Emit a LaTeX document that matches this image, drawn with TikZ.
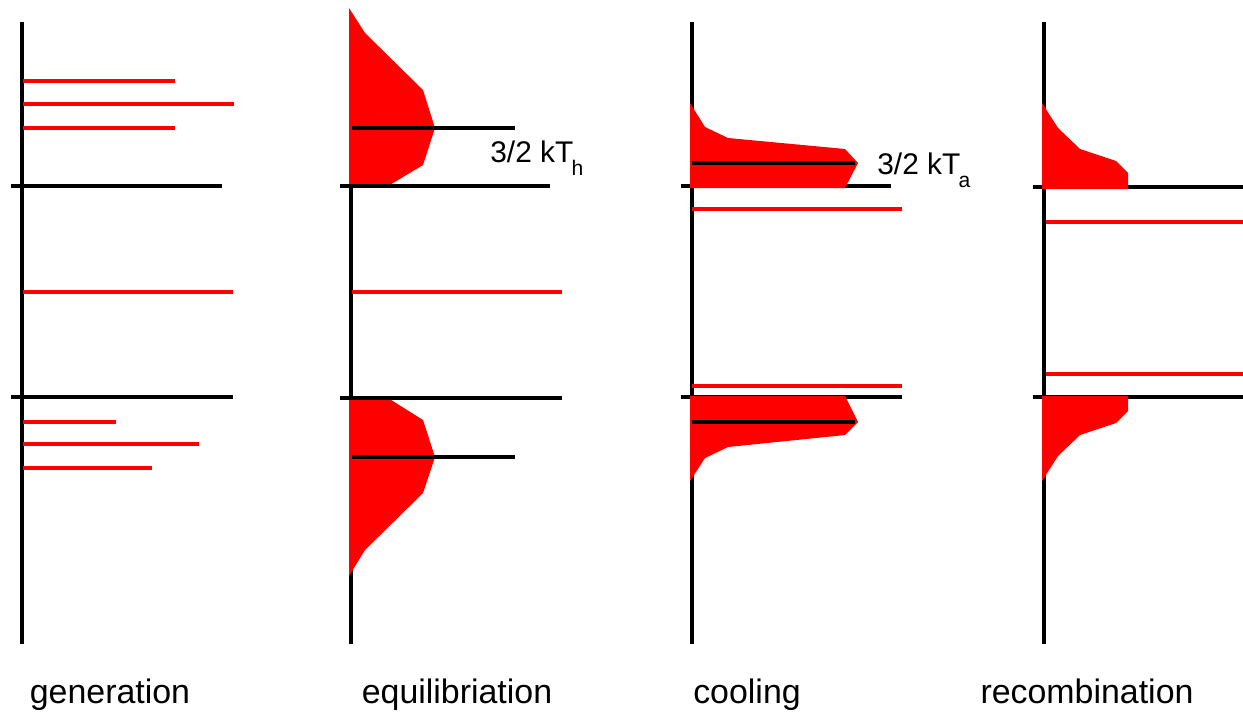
\documentclass[tikz,border=0pt]{standalone}
\usepackage{fontspec}
\setmainfont{Liberation Sans}
\begin{document}
\begin{tikzpicture}[x=0.02cm,y=-0.02cm,
  band/.style={line width=2.3pt},
  lvl/.style={red,line width=2pt},
  lbl/.style={anchor=base,font=\fontsize{19.3}{23}\selectfont},
  temp/.style={anchor=base west,inner sep=0pt,font=\fontsize{17}{20}\selectfont}]
\useasboundingbox (0,0) rectangle (1243,713);
% achsen
\foreach \x in {22,351,692,1044} \draw[band] (\x,22) -- (\x,644);
% verteilung heiss (unter den baendern)
\fill[red] (349,8) -- (365,33) -- (423,90) -- (435,128) -- (423,165) -- (388,186) -- (349,186) -- cycle;
\fill[red] (349,398) -- (388,398) -- (423,420) -- (435,457) -- (423,493) -- (365,550) -- (349,576) -- cycle;
% bandkanten
\draw[band] (11,186) -- (222,186);
\draw[band] (11,397) -- (233,397);
\draw[band] (340,186) -- (550,186);
\draw[band] (340,398) -- (562,398);
\draw[band] (681,186) -- (891,186);
\draw[band] (681,397) -- (902,397);
\draw[band] (1033,187) -- (1243,187);
\draw[band] (1033,397) -- (1243,397);
% verteilung kalt
\fill[red] (690,103) -- (705,127) -- (728,138) -- (845,149) -- (858,163) -- (845,188) -- (690,188) -- cycle;
\fill[red] (690,396) -- (845,396) -- (858,422) -- (845,435) -- (728,447) -- (705,458) -- (690,481) -- cycle;
\fill[red] (1042,103) -- (1058,128) -- (1080,149) -- (1116,161) -- (1128,173) -- (1128,189) -- (1042,189) -- cycle;
\fill[red] (1042,396) -- (1128,396) -- (1128,411) -- (1116,423) -- (1080,435) -- (1058,456) -- (1042,481) -- cycle;
% einzelne niveaus
\foreach \y/\l in {81/175,104/234,128/175,292/233,422/116,444/199,468/152}
  \draw[lvl] (23,\y) -- (\l,\y);
\draw[lvl] (352,292) -- (562,292);
\draw[lvl] (692,209) -- (902,209);
\draw[lvl] (692,386) -- (902,386);
\draw[lvl] (1046,222) -- (1243,222);
\draw[lvl] (1046,374) -- (1243,374);
% mittlere energie
\draw[band] (352,128) -- (515,128);
\draw[band] (352,457) -- (515,457);
\draw[band] (692,163) -- (855,163);
\draw[band] (692,422) -- (855,422);
\node[temp] (Th) at (490,162) {3/2 kT\kern-1pt\raisebox{-7.4pt}{\fontsize{12}{14}\selectfont h}};
\node[temp] (Ta) at (877,174) {3/2 kT\kern-1pt\raisebox{-7.4pt}{\fontsize{12}{14}\selectfont a}};
% beschriftung
\node[lbl] (gen) at (110,703) {generation};
\node[lbl] (equ) at (457,703) {equilibriation};
\node[lbl] (cool) at (747,703) {cooling};
\node[lbl] (rec) at (1087,703) {recombination};
\end{tikzpicture}
\end{document}
